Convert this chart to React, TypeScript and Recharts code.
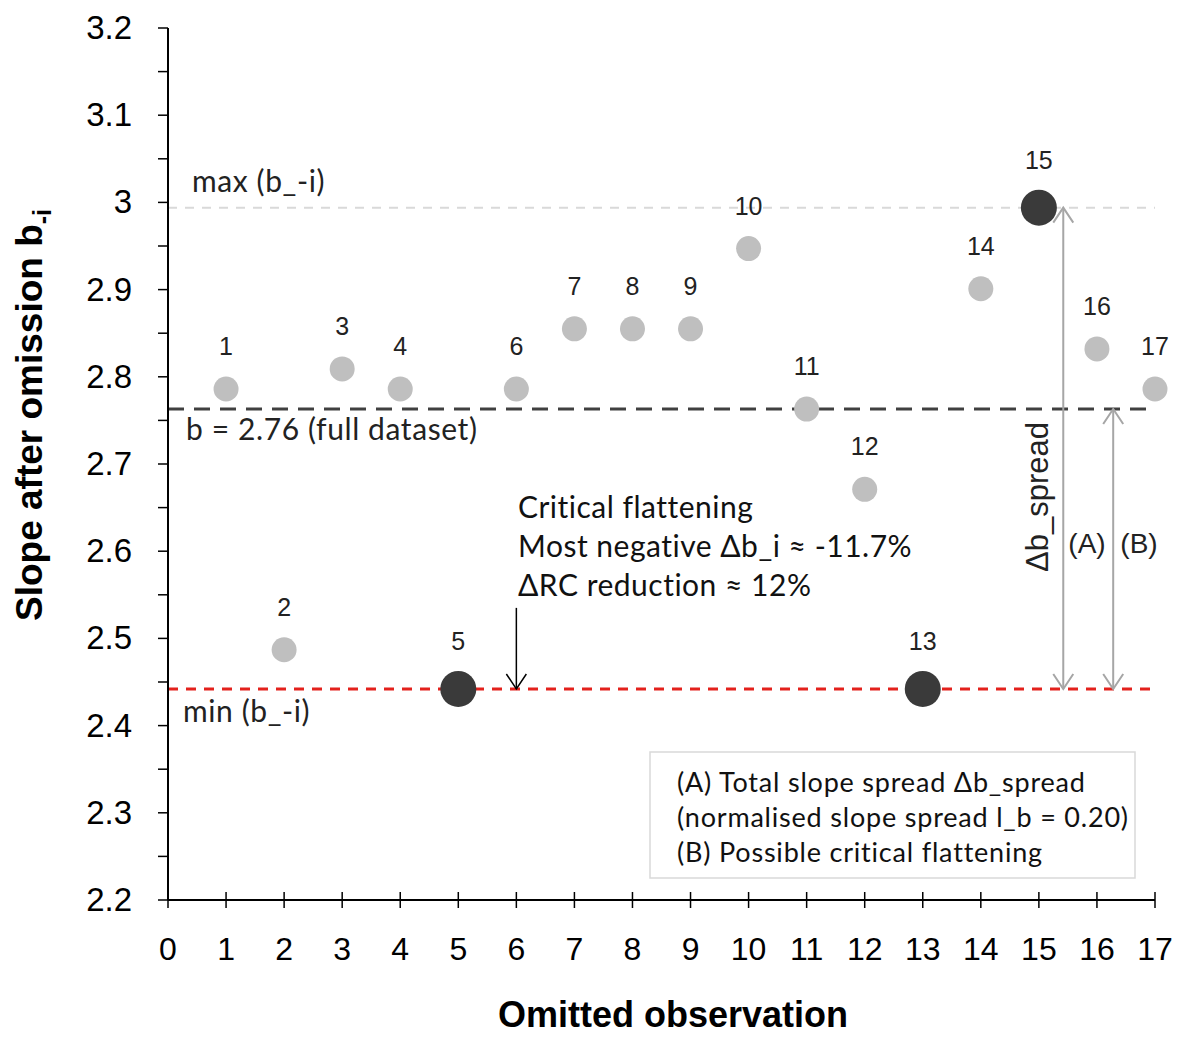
import React from 'react';
import {
    ScatterChart, Scatter, XAxis, YAxis, ReferenceLine, Customized,
} from 'recharts';

// omitted observation number and slope after omitting it
const observations = [1, 2, 3, 4, 5, 6, 7, 8, 9, 10, 11, 12, 13, 14, 15, 16, 17];
const slopes = [2.786, 2.487, 2.809, 2.786, 2.442, 2.786, 2.855, 2.855, 2.855, 2.947, 2.763, 2.671, 2.442, 2.901, 2.994, 2.832, 2.786];
const extremeObs = [5, 13, 15];

const fullSlope = 2.763;
const maxSlope = 2.994;
const minSlope = 2.442;

const xTicks = [0, 1, 2, 3, 4, 5, 6, 7, 8, 9, 10, 11, 12, 13, 14, 15, 16, 17];
const yTicks = [2.2, 2.25, 2.3, 2.35, 2.4, 2.45, 2.5, 2.55, 2.6, 2.65, 2.7, 2.75, 2.8, 2.85, 2.9, 2.95, 3, 3.05, 3.1, 3.15, 3.2];

const legendLines = [
    '(A) Total slope spread \u0394b_spread',
    '(normalised slope spread l_b = 0.20)',
    '(B) Possible critical flattening',
];
const criticalLines = [
    'Critical flattening',
    'Most negative \u0394b_i \u2248 -11.7%',
    '\u0394RC reduction \u2248  12%',
];

const points = observations.map((o, i) => ({ x: o, y: slopes[i] }));
const normalPts = points.filter(p => !extremeObs.includes(p.x));
const extremePts = points.filter(p => extremeObs.includes(p.x));

const ARIAL = '"Liberation Sans", Arial, sans-serif';
const APTOS = 'Lato, "Open Sans", sans-serif';

const dot = (r: number, fill: string, gap: number) => (props: any) => {
    const { cx, cy, payload } = props;
    return (
        <g>
            <circle cx={cx} cy={cy} r={r} fill={fill} />
            <text x={cx} y={cy - gap} textAnchor="middle" fontSize={25} fontFamily={ARIAL} fill="#222">
                {payload.x}
            </text>
        </g>
    );
};

// line with open arrow heads
const arrow = (color: string, width: number, both: boolean) => (props: any) => {
    const { x1, y1, x2, y2 } = props;
    const head = (hx: number, hy: number, dir: number) => (
        <polyline
            points={`${hx - 10},${hy - dir * 15} ${hx},${hy} ${hx + 10},${hy - dir * 15}`}
            fill="none" stroke={color} strokeWidth={width}
        />
    );
    const down = y2 > y1 ? 1 : -1;
    return (
        <g>
            <line x1={x1} y1={y1} x2={x2} y2={y2} stroke={color} strokeWidth={width} />
            {head(x2, y2, down)}
            {both && head(x1, y1, -down)}
        </g>
    );
};

const lineLabel = (text: string, dx: number, dy: number) => (props: any) => {
    const { viewBox } = props;
    return (
        <text x={viewBox.x + dx} y={viewBox.y + dy} fontSize={30} letterSpacing={0.6} fontFamily={APTOS} fill="#222">{text}</text>
    );
};

const Annotations = () => (
    <g>
        {criticalLines.map((t, i) => (
            <text key={t} x={518} y={518 + i * 39} fontSize={30} letterSpacing={0.5} fontFamily={APTOS} fill="#111">{t}</text>
        ))}
        <text x={1048} y={497} transform="rotate(-90, 1048, 497)" textAnchor="middle" fontSize={31} fontFamily={ARIAL} fill="#222">
            {'\u0394b_spread'}
        </text>
        <text x={1087} y={553} textAnchor="middle" fontSize={28} fontFamily={ARIAL} fill="#222">(A)</text>
        <text x={1139} y={553} textAnchor="middle" fontSize={28} fontFamily={ARIAL} fill="#222">(B)</text>
        <rect x={650} y={752} width={485} height={126} fill="#fff" stroke="#d9d9d9" strokeWidth={1.5} />
        {legendLines.map((t, i) => (
            <text key={t} x={677} y={792 + i * 35} fontSize={27} letterSpacing={0.8} fontFamily={APTOS} fill="#111">{t}</text>
        ))}
    </g>
);

export default function App() {
    return (
        <div style={{ position: 'absolute', left: 0, top: 0, width: 1181, height: 1041, background: '#fff' }}>
            <ScatterChart width={1181} height={1041} margin={{ top: 28, right: 26, bottom: 81, left: 68 }}>
                <XAxis
                    type="number" dataKey="x" domain={[0, 17]} ticks={xTicks} interval={0}
                    height={60} axisLine={{ stroke: '#000', strokeWidth: 2 }} tickLine={false}
                    tickSize={0} tickMargin={0}
                    tick={(p: any) => (
                        <g>
                            <line x1={p.x} x2={p.x} y1={p.y - 8} y2={p.y + 8} stroke="#000" strokeWidth={1.5} />
                            <text x={p.x} y={p.y + 60} textAnchor="middle" fontSize={32} fontFamily={ARIAL} fill="#000">
                                {p.payload.value}
                            </text>
                        </g>
                    )}
                    label={{
                        content: () => (
                            <text x={673} y={1027} textAnchor="middle" fontSize={36} fontWeight="bold" fontFamily={ARIAL} fill="#000">
                                Omitted observation
                            </text>
                        ),
                    }}
                />
                <YAxis
                    type="number" dataKey="y" domain={[2.2, 3.2]} ticks={yTicks} interval={0} width={100}
                    axisLine={{ stroke: '#000', strokeWidth: 2 }} tickLine={{ stroke: '#000', strokeWidth: 1.5 }}
                    tickSize={10} tickMargin={26}
                    tick={(p: any) => {
                        const v = p.payload.value;
                        const major = Math.round(v * 100) % 10 === 0;
                        return major ? (
                            <text x={p.x} y={p.y + 11} textAnchor="end" fontSize={33} fontFamily={ARIAL} fill="#000">
                                {String(Math.round(v * 10) / 10)}
                            </text>
                        ) : <g />;
                    }}
                    label={{
                        content: () => (
                            <text x={42} y={415} transform="rotate(-90, 42, 415)" textAnchor="middle" fontSize={37} fontWeight="bold" fontFamily={ARIAL} fill="#000">
                                Slope after omission b<tspan fontSize={25} dy={9}>-i</tspan>
                            </text>
                        ),
                    }}
                />
                <ReferenceLine y={maxSlope} stroke="#d9d9d9" strokeWidth={2} strokeDasharray="9 8" label={lineLabel('max (b_-i)', 24, -16)} />
                <ReferenceLine y={fullSlope} stroke="#404040" strokeWidth={3} strokeDasharray="16 10" label={lineLabel('b = 2.76 (full dataset)', 18, 31)} />
                <ReferenceLine y={minSlope} stroke="#e3211c" strokeWidth={3} strokeDasharray="10 8" label={lineLabel('min (b_-i)', 15, 33)} />
                <ReferenceLine segment={[{ x: 6, y: 2.535 }, { x: 6, y: minSlope }]} shape={arrow('#000', 1.5, false)} />
                <ReferenceLine segment={[{ x: 15.42, y: maxSlope }, { x: 15.42, y: minSlope }]} shape={arrow('#a6a6a6', 2, true)} />
                <ReferenceLine segment={[{ x: 16.28, y: fullSlope }, { x: 16.28, y: minSlope }]} shape={arrow('#a6a6a6', 2, true)} />
                <Scatter data={normalPts} fill="#bfbfbf" shape={dot(12.5, '#bfbfbf', 34)} isAnimationActive={false} />
                <Scatter data={extremePts} fill="#3a3a3a" shape={dot(18, '#3a3a3a', 39)} isAnimationActive={false} />
                <Customized component={Annotations} />
            </ScatterChart>
        </div>
    );
}
